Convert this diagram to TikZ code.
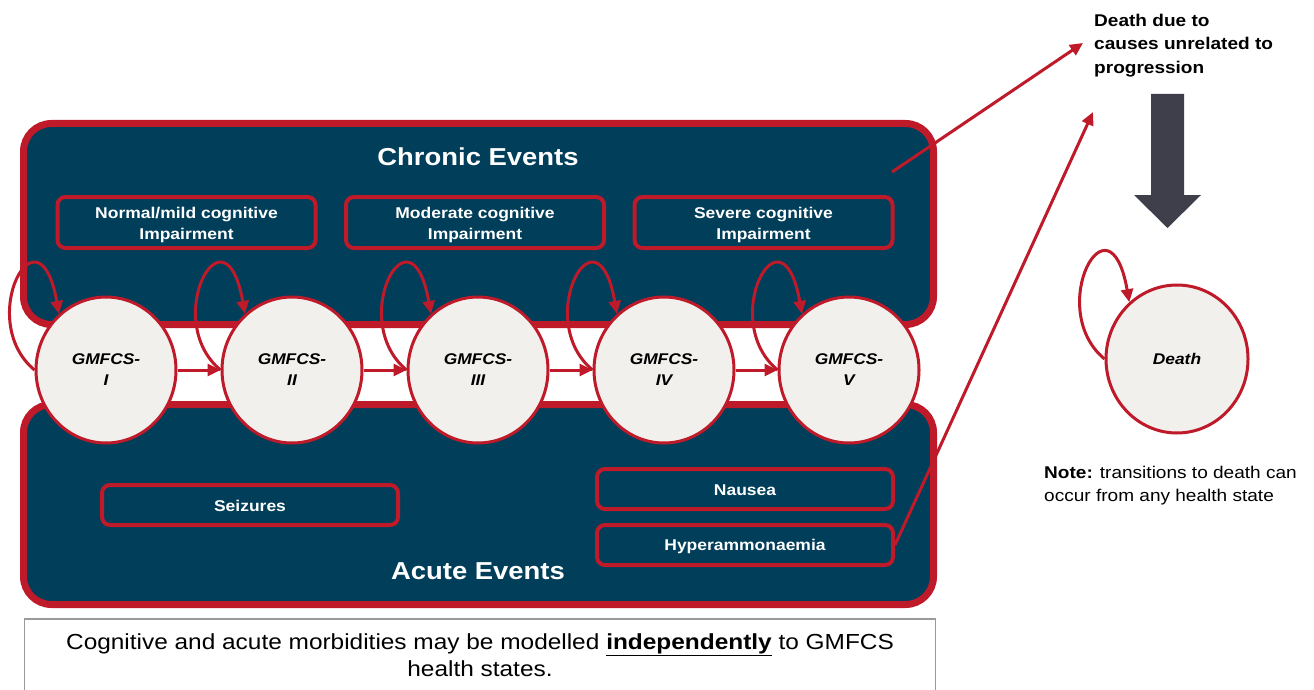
\documentclass[tikz,border=0pt]{standalone}
\usepackage{fontspec}
\setmainfont{Liberation Sans}[FakeStretch=1.12]
\usetikzlibrary{shapes.geometric,arrows.meta}
\definecolor{navy}{HTML}{003E5A}
\definecolor{ured}{HTML}{BE1A2A}
\definecolor{circfill}{HTML}{F2F0EC}
\definecolor{blockgray}{HTML}{3F3F4B}
\definecolor{boxgray}{HTML}{999999}
\tikzset{
  panel/.style={draw=ured, fill=navy, line width=7pt, rounded corners=28pt, inner sep=0pt},
  evbox/.style={draw=ured, fill=navy, line width=4pt, rounded corners=8pt, inner sep=0pt},
  evtext/.style={text=white, font=\bfseries\fontsize{15.6}{21}\selectfont, align=center, inner sep=0pt},
  state/.style={ellipse, draw=ured, fill=circfill, line width=3pt, inner sep=0pt,
    minimum width=140pt, minimum height=146pt, font=\bfseries\itshape\fontsize{15.5}{21}\selectfont, align=center},
  redarrow/.style={draw=ured, line width=3pt, -{Triangle[length=13pt,width=12pt]}},
  paneltitle/.style={text=white, font=\bfseries\fontsize{24.5}{28}\selectfont},
}
\newcommand{\selfloop}[1]{\draw[redarrow] (#1.west) .. controls +(-60,-50) and +(-20,-114) .. (#1.130);}
\begin{document}
\begin{tikzpicture}[x=1pt,y=-1pt]
\useasboundingbox (0,0) rectangle (1314,690);
% panels
\node[panel, minimum width=910pt, minimum height=201pt] (chronic) at (478.5,224) {};
\node[panel, minimum width=910pt, minimum height=200pt] (acute) at (478.5,504.5) {};
\node[paneltitle] (ctitle) at (478,157) {Chronic Events};
\node[paneltitle] (atitle) at (478,571) {Acute Events};
% cognitive boxes
\node[evbox, minimum width=258pt, minimum height=51pt] (cog1) at (186.5,222.5) {};
\node[evbox, minimum width=258pt, minimum height=51pt] (cog2) at (475,222.5) {};
\node[evbox, minimum width=258pt, minimum height=51pt] (cog3) at (763.5,222.5) {};
\node[evtext] (cog1t) at ([yshift=-2pt]cog1.center) {Normal/mild cognitive\\Impairment};
\node[evtext] (cog2t) at ([yshift=-2pt]cog2.center) {Moderate cognitive\\Impairment};
\node[evtext] (cog3t) at ([yshift=-2pt]cog3.center) {Severe cognitive\\Impairment};
% acute boxes
\node[evbox, minimum width=296pt, minimum height=40pt] (seiz) at (250,505) {};
\node[evbox, minimum width=296pt, minimum height=40pt] (naus) at (745,489) {};
\node[evbox, minimum width=296pt, minimum height=40pt] (hyper) at (745,545) {};
\node[evtext] (seizt) at ([yshift=-1pt]seiz.center) {Seizures};
\node[evtext] (naust) at ([yshift=-1pt]naus.center) {Nausea};
\node[evtext] (hypert) at ([yshift=-1pt]hyper.center) {Hyperammonaemia};
% states
\node[state] (g1) at (106,370) {GMFCS-\\I};
\node[state] (g2) at (292,370) {GMFCS-\\II};
\node[state] (g3) at (478,370) {GMFCS-\\III};
\node[state] (g4) at (664,370) {GMFCS-\\IV};
\node[state] (g5) at (849,370) {GMFCS-\\V};
\selfloop{g1}\selfloop{g2}\selfloop{g3}\selfloop{g4}\selfloop{g5}
\draw[redarrow] (g1.east) -- (g2.west);
\draw[redarrow] (g2.east) -- (g3.west);
\draw[redarrow] (g3.east) -- (g4.west);
\draw[redarrow] (g4.east) -- (g5.west);
% death side
\node[anchor=north west, align=left, inner sep=0pt, font=\bfseries\fontsize{17}{23.5}\selectfont] (dtext) at (1094,13.5) {Death due to\\causes unrelated to\\progression};
\coordinate (cstart) at (892,172);
\coordinate (dtip1) at (1083,43);
\coordinate (dtip2) at (1093,112);
\draw[redarrow] (cstart) -- (dtip1);
\draw[redarrow] (hyper.east) -- (dtip2);
\fill[blockgray] (1151,94) -- (1184,94) -- (1184,195) -- (1201,195) -- (1167.5,228) -- (1134,195) -- (1151,195) -- cycle;
\node[state, minimum width=142pt, minimum height=148pt] (death) at (1177,359) {Death};
\selfloop{death}
\node[anchor=north west, align=left, inner sep=0pt, font=\fontsize{17}{23.5}\selectfont] (note) at (1044,465.5) {\textbf{Note:} transitions to death can\\occur from any health state};
% bottom statement
\node[draw=boxgray, line width=1.5pt, minimum width=911pt, minimum height=80pt, anchor=north, inner sep=0pt] (stmt) at (480,618) {};
\node[align=center, inner sep=0pt, font=\fontsize{21.8}{27}\selectfont, anchor=north] (stmttext) at (480,633) {Cognitive and acute morbidities may be modelled \textbf{\underline{independently}} to GMFCS\\health states.};
\end{tikzpicture}
\end{document}
